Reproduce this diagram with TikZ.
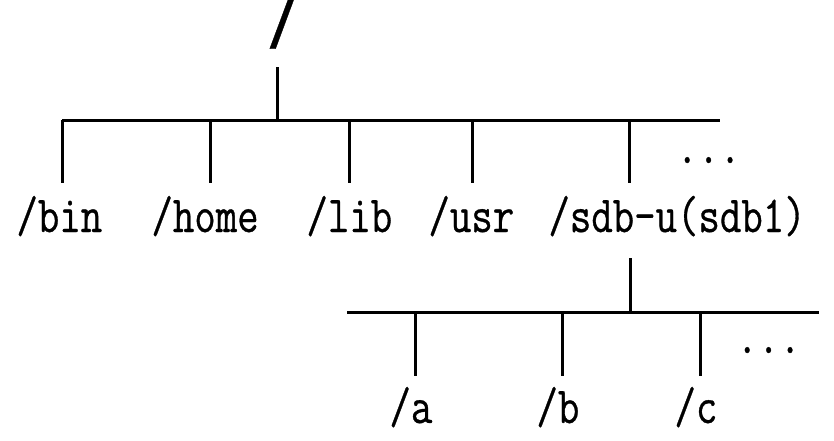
\documentclass[tikz,border=0pt]{standalone}
\usepackage{fontspec}
\newfontfamily\treefont[FakeStretch=0.8,FakeBold=0.6]{Latin Modern Mono}
\newfontfamily\rootfont[FakeBold=0.5,FakeSlant=0.1]{Liberation Sans}
\begin{document}
\begin{tikzpicture}[x=1pt,y=-1pt,line width=3pt,
  lbl/.style={font=\treefont\fontsize{52}{52}\selectfont,inner sep=0pt,anchor=base west},
  link/.style={line width=3pt}]
\useasboundingbox (0,0) rectangle (834,440);
% root
\node[font=\rootfont\fontsize{73}{73}\selectfont,inner sep=0pt,text height=40pt,text depth=1pt,anchor=base] (root) at (280,48) {/};
\coordinate (rtop) at (277,67);
\coordinate (rbar) at (277,120);
\coordinate (barL) at (62,120);
\coordinate (barR) at (720,120);
\draw[link] (rtop) -- (rbar);
\draw[link] (barL) -- (barR);
% first level
\foreach \n/\x in {bin/62,home/210,lib/349,usr/472,sdb/629}{
  \coordinate (\n t) at (\x,120);
  \coordinate (\n b) at (\x,183);
  \draw[link] (\n t) -- (\n b);
}
\node[lbl] (bin) at (15,232) {/bin};
\node[lbl] (home) at (150,232) {/home};
\node[lbl] (lib) at (305,232) {/lib};
\node[lbl] (usr) at (427,232) {/usr};
\node[lbl] (sdb) at (547,232) {/sdb-u(sdb1)};
\node[lbl] (dots1) at (675,163) {...};
% second level
\coordinate (stop) at (630,258);
\coordinate (sbar) at (630,312);
\coordinate (sbarL) at (347,312);
\coordinate (sbarR) at (819,312);
\draw[link] (stop) -- (sbar);
\draw[link] (sbarL) -- (sbarR);
\foreach \n/\x in {a/415,b/562,c/700}{
  \coordinate (\n t) at (\x,312);
  \coordinate (\n b) at (\x,376);
  \draw[link] (\n t) -- (\n b);
}
\node[lbl] (na) at (388,423) {/a};
\node[lbl] (nb) at (535,423) {/b};
\node[lbl] (nc) at (673,423) {/c};
\node[lbl] (dots2) at (735,353) {...};
\end{tikzpicture}
\end{document}
